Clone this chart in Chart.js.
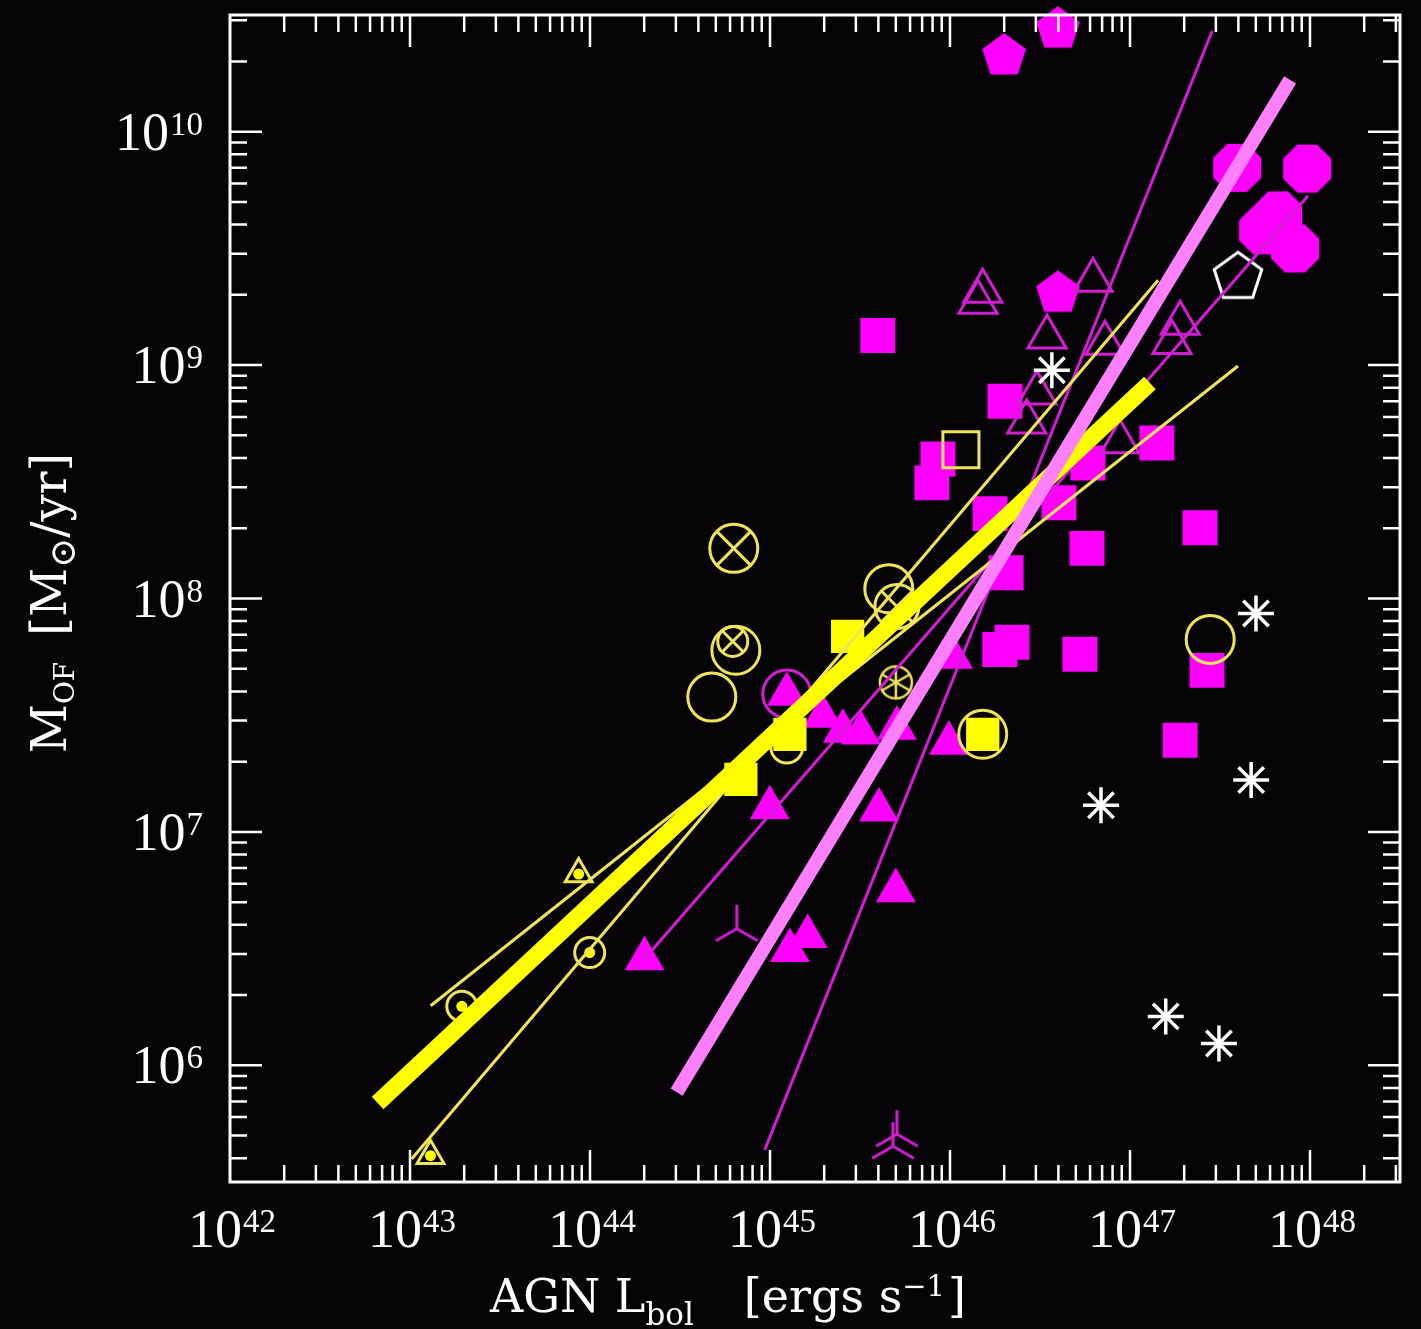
<!DOCTYPE html>
<html>
<head>
<meta charset="utf-8">
<script src="https://cdn.jsdelivr.net/npm/chart.js@4.4.1/dist/chart.umd.min.js"></script>
<style>
  html, body { margin: 0; padding: 0; background: #050305; }
  #wrap { position: relative; width: 1421px; height: 1329px; }
</style>
</head>
<body>
<div id="wrap"><canvas id="chart"></canvas></div>
<script>
// values: [L_bol (erg/s), M_OF (Msun/yr)]
var magentaSquares = [[3.97e45, 1.34e9], [2.02e46, 7.0e8], [8.57e45, 3.96e8], [7.93e45, 3.13e8],
  [1.67e46, 2.31e8], [4.03e46, 2.57e8], [5.84e46, 3.81e8], [1.41e47, 4.64e8], [5.77e46, 1.64e8],
  [2.45e47, 2.01e8], [2.05e46, 1.29e8], [1.89e46, 6.05e7], [2.21e46, 6.49e7], [5.27e46, 5.77e7],
  [2.68e47, 4.92e7], [1.90e47, 2.47e7]];
var magentaTriangles = [[2.01e44, 2.86e6], [1.24e45, 3.89e7], [1.96e45, 3.13e7], [2.54e45, 2.70e7],
  [3.20e45, 2.65e7], [5.07e45, 2.78e7], [1.04e46, 5.60e7], [9.86e45, 2.40e7], [9.97e44, 1.27e7],
  [4.03e45, 1.24e7], [5.0e45, 5.6e6], [1.29e45, 3.10e6], [1.62e45, 3.56e6]];
var magentaOpenTriangles = [[1.52e46, 2.07e9], [1.43e46, 1.86e9], [6.23e46, 2.31e9], [3.46e46, 1.32e9],
  [7.26e46, 1.24e9], [1.90e47, 1.51e9], [1.71e47, 1.25e9], [3.04e46, 7.59e8], [2.67e46, 5.71e8],
  [8.80e46, 4.69e8]];
var magentaPentagons = [[2.0e46, 2.11e10], [3.98e46, 2.75e10], [3.98e46, 2.03e9]];
var whitePentagons = [[3.98e47, 2.38e9]];
var magentaOctagons = [[3.94e47, 7.0e9], [9.64e47, 6.95e9], [6.65e47, 4.38e9], [5.49e47, 3.78e9], [8.26e47, 3.16e9]];
var whiteAsterisks = [[3.68e46, 9.5e8], [5.01e47, 8.63e7], [4.71e47, 1.67e7], [6.9e46, 1.30e7],
  [1.58e47, 1.62e6], [3.12e47, 1.24e6]];
var magentaTripods = [[6.54e44, 3.85e6], [4.82e45, 4.5e5], [5.07e45, 5.07e5]];
var magentaRings = [[1.24e45, 3.9e7]];

var yellowSquares = [[6.89e44, 1.68e7], [1.29e45, 2.62e7], [2.70e45, 6.89e7], [1.52e46, 2.62e7]];
var yellowOpenSquares = [[1.15e46, 4.34e8]];
var yellowRings = [[4.75e44, 3.78e7], [2.79e47, 6.68e7], [4.57e45, 1.10e8], [6.46e44, 6.0e7], [1.52e46, 2.62e7]];
var yellowSmallRings = [[1.24e45, 2.31e7]];
var yellowCrossedRings = [[6.29e44, 1.64e8], [5.07e45, 9.24e7]];
var yellowSmallCrossed = [[6.21e44, 6.55e7]];
var yellowStarRings = [[5.0e45, 4.37e7]];
var yellowDotRings = [[1.94e43, 1.79e6], [9.96e43, 3.04e6]];
var yellowDotTriangles = [[8.65e43, 6.6e6], [1.30e43, 4.1e5]];

// fit lines (end points)
var yellowFit = [[6.61e42, 6.89e5], [1.29e47, 8.38e8]];
var yellowFitA = [[1.303e43, 1.80e6], [3.98e47, 9.91e8]];
var yellowFitB = [[1.021e43, 3.97e5], [1.432e47, 2.31e9]];
var pinkFit = [[3.03e44, 7.67e5], [7.75e47, 1.667e10]];
var magentaFitA = [[2.01e44, 2.86e6], [9.75e47, 5.32e9]];
var magentaFitB = [[9.35e44, 4.34e5], [2.86e47, 2.70e10]];

// tick labels (powers of ten)
var xTickPowers = [42, 43, 44, 45, 46, 47, 48];
var yTickPowers = [6, 7, 8, 9, 10];

var MAG = '#ff00ff', MAG_LINE = '#d21ed2', PINK = '#ff80ff';
var YEL = '#ffff00', YEL_LINE = '#efe55a', WHITE = '#ffffff';

function pts(arr) {
  return arr.map(function (p) { return { x: p[0], y: p[1] }; });
}

// small canvases for marker shapes Chart.js has no style for
function makeMarker(kind, r, color, lw) {
  var pad = Math.ceil(lw) + 2;
  var size = 2 * (r + pad);
  var c = document.createElement('canvas');
  c.width = size;
  c.height = size;
  var ctx = c.getContext('2d');
  var cx = size / 2, cy = size / 2;
  ctx.strokeStyle = color;
  ctx.fillStyle = color;
  ctx.lineWidth = lw;
  function poly(n, rot) {
    ctx.beginPath();
    for (var i = 0; i < n; i++) {
      var a = rot + i * 2 * Math.PI / n;
      ctx.lineTo(cx + r * Math.cos(a), cy + r * Math.sin(a));
    }
    ctx.closePath();
  }
  function spokes(angles, inner) {
    ctx.beginPath();
    angles.forEach(function (deg) {
      var a = deg * Math.PI / 180;
      ctx.moveTo(cx + inner * Math.cos(a), cy + inner * Math.sin(a));
      ctx.lineTo(cx + r * Math.cos(a), cy + r * Math.sin(a));
    });
    ctx.stroke();
  }
  if (kind === 'pentagon') { poly(5, -Math.PI / 2); ctx.fill(); }
  else if (kind === 'pentagonOpen') { poly(5, -Math.PI / 2); ctx.stroke(); }
  else if (kind === 'octagon') { poly(8, Math.PI / 8); ctx.fill(); }
  else if (kind === 'tripod') { spokes([-90, 30, 150], 0); }
  else if (kind === 'ringStar') {
    ctx.beginPath();
    ctx.arc(cx, cy, r, 0, 2 * Math.PI);
    ctx.stroke();
    spokes([-90, 90, 30, 150, 210, 330], 0);
  }
  return c;
}

var pentFill = makeMarker('pentagon', 23, MAG, 0);
var pentOpen = makeMarker('pentagonOpen', 25, WHITE, 3);
var octFill = makeMarker('octagon', 26, MAG, 0);
var tripod = makeMarker('tripod', 24, MAG_LINE, 3);
var ringStar = makeMarker('ringStar', 16, YEL_LINE, 2.5);

function lineSet(arr, color, width, order) {
  return {
    data: pts(arr), showLine: true, borderColor: color, borderWidth: width,
    borderCapStyle: 'butt', pointRadius: 0, pointHoverRadius: 0, fill: false,
    clip: false, order: order
  };
}

function markSet(arr, style, radius, fill, stroke, width, order) {
  return {
    data: pts(arr), showLine: false, pointStyle: style, pointRadius: radius,
    pointHoverRadius: radius, pointBackgroundColor: fill, pointBorderColor: stroke,
    pointBorderWidth: width, clip: false, order: order
  };
}

// frame with inward ticks on all sides, power-of-ten labels, axis titles
var framePlugin = {
  id: 'frame',
  afterDatasetsDraw: function (chart) {
    var ctx = chart.ctx, a = chart.chartArea;
    var xs = chart.scales.x, ys = chart.scales.y;
    ctx.save();
    ctx.strokeStyle = WHITE;
    ctx.fillStyle = WHITE;
    ctx.lineWidth = 3;
    ctx.strokeRect(a.left, a.top, a.right - a.left, a.bottom - a.top);

    ctx.lineWidth = 2.5;
    ctx.beginPath();
    for (var d = 41; d <= 49; d++) {
      for (var k = 1; k <= 9; k++) {
        var v = k * Math.pow(10, d);
        if (v < xs.min * 1.001 || v > xs.max * 0.999) continue;
        var px = xs.getPixelForValue(v), len = k === 1 ? 32 : 17;
        ctx.moveTo(px, a.bottom); ctx.lineTo(px, a.bottom - len);
        ctx.moveTo(px, a.top); ctx.lineTo(px, a.top + len);
      }
    }
    for (d = 5; d <= 10; d++) {
      for (k = 1; k <= 9; k++) {
        v = k * Math.pow(10, d);
        if (v < ys.min * 1.001 || v > ys.max * 0.999) continue;
        var py = ys.getPixelForValue(v);
        len = k === 1 ? 32 : 17;
        ctx.moveTo(a.left, py); ctx.lineTo(a.left + len, py);
        ctx.moveTo(a.right, py); ctx.lineTo(a.right - len, py);
      }
    }
    ctx.stroke();

    var baseFont = '54px "Liberation Serif"', expFont = '33px "Liberation Serif"';
    ctx.textBaseline = 'alphabetic';
    ctx.textAlign = 'left';
    function powLabel(p) {
      ctx.font = baseFont;
      var wb = ctx.measureText('10').width;
      ctx.font = expFont;
      var we = ctx.measureText(String(p)).width;
      return { wb: wb, we: we, w: wb + we + 1 };
    }
    function drawPow(p, x0, base) {
      var m = powLabel(p);
      ctx.font = baseFont;
      ctx.fillText('10', x0, base);
      ctx.font = expFont;
      ctx.fillText(String(p), x0 + m.wb + 1, base - 15);
    }
    xTickPowers.forEach(function (p) {
      var px = xs.getPixelForValue(Math.pow(10, p));
      var m = powLabel(p);
      drawPow(p, px + 2 - m.w / 2, 1247);
    });
    yTickPowers.forEach(function (p) {
      var py = ys.getPixelForValue(Math.pow(10, p));
      var m = powLabel(p);
      drawPow(p, 203 - m.w, py + 18);
    });

    function drawRich(segs, cx, base) {
      var total = 0;
      segs.forEach(function (s) {
        ctx.font = s.size + 'px "DejaVu Serif"';
        s.w = ctx.measureText(s.t).width;
        total += (s.gap || 0) + s.w;
      });
      var x = cx - total / 2;
      segs.forEach(function (s) {
        x += s.gap || 0;
        ctx.font = s.size + 'px "DejaVu Serif"';
        ctx.fillText(s.t, x, base + (s.dy || 0));
        x += s.w;
      });
    }
    drawRich([
      { t: 'AGN L', size: 46 },
      { t: 'bol', size: 31, dy: 13 },
      { t: '[ergs s', size: 46, gap: 50 },
      { t: '\u22121', size: 29, dy: -16 },
      { t: ']', size: 46, gap: 3 }
    ], 728, 1312);

    ctx.translate(66, 603);
    ctx.rotate(-Math.PI / 2);
    drawRich([
      { t: 'M', size: 48 },
      { t: 'OF', size: 28, dy: 8 },
      { t: '[M', size: 48, gap: 26 },
      { t: '\u2299', size: 36, dy: 9 },
      { t: '/yr]', size: 48, gap: 0 }
    ], 0, 0);
    ctx.restore();
  }
};

var datasets = [
  lineSet(pinkFit, PINK, 14, 1),
  lineSet(yellowFit, YEL, 17, 2),
  lineSet(yellowFitA, YEL_LINE, 3, 3),
  lineSet(yellowFitB, YEL_LINE, 3, 3),
  lineSet(magentaFitA, MAG_LINE, 3, 3),
  lineSet(magentaFitB, MAG_LINE, 3, 3),
  markSet(whiteAsterisks, 'star', 18, WHITE, WHITE, 3.5, 4),
  markSet(whitePentagons, pentOpen, 25, WHITE, WHITE, 0, 4),
  markSet(yellowSquares, 'rect', 23.5, YEL, YEL, 0, 5),
  markSet(yellowOpenSquares, 'rect', 25.5, 'rgba(0,0,0,0)', YEL_LINE, 3, 5),
  markSet(yellowRings, 'circle', 24, 'rgba(0,0,0,0)', YEL_LINE, 3, 5),
  markSet(yellowSmallRings, 'circle', 16, 'rgba(0,0,0,0)', YEL_LINE, 3, 5),
  markSet(yellowCrossedRings, 'circle', [24, 22], 'rgba(0,0,0,0)', YEL_LINE, 3, 5),
  markSet(yellowCrossedRings, 'crossRot', [24, 22], 'rgba(0,0,0,0)', YEL_LINE, 3, 5),
  markSet(yellowSmallCrossed, 'circle', 15, 'rgba(0,0,0,0)', YEL_LINE, 3, 5),
  markSet(yellowSmallCrossed, 'crossRot', 15, 'rgba(0,0,0,0)', YEL_LINE, 3, 5),
  markSet(yellowStarRings, ringStar, 16, YEL_LINE, YEL_LINE, 0, 5),
  markSet(yellowDotRings, 'circle', 15, 'rgba(0,0,0,0)', YEL_LINE, 3, 5),
  markSet(yellowDotRings, 'circle', 5.5, YEL, YEL, 0, 5),
  markSet(yellowDotTriangles, 'triangle', 15.5, 'rgba(0,0,0,0)', YEL_LINE, 3, 5),
  markSet(yellowDotTriangles, 'circle', 5.5, YEL, YEL, 0, 5),
  markSet(magentaOpenTriangles, 'triangle', 22, 'rgba(0,0,0,0)', MAG_LINE, 3, 6),
  markSet(magentaRings, 'circle', 24, 'rgba(0,0,0,0)', MAG_LINE, 3, 6),
  markSet(magentaTripods, tripod, 24, MAG, MAG, 0, 6),
  markSet(magentaTriangles, 'triangle', 23, MAG, MAG, 0, 7),
  markSet(magentaSquares, 'rect', 24.7, MAG, MAG, 0, 7),
  markSet(magentaPentagons, pentFill, 23, MAG, MAG, 0, 7),
  markSet(magentaOctagons, octFill, 26, MAG, MAG, 0, 7)
];

new Chart(document.getElementById('chart'), {
  type: 'scatter',
  data: { datasets: datasets },
  options: {
    responsive: true,
    maintainAspectRatio: false,
    animation: false,
    events: [],
    layout: { autoPadding: false, padding: { left: 230, right: 21, top: 15, bottom: 147 } },
    plugins: { legend: { display: false }, tooltip: { enabled: false } },
    scales: {
      x: { type: 'logarithmic', min: 1e42, max: 3.1623e48, display: false },
      y: { type: 'logarithmic', min: 3.1623e5, max: 3.1623e10, display: false }
    }
  },
  plugins: [framePlugin]
});
</script>
</body>
</html>
